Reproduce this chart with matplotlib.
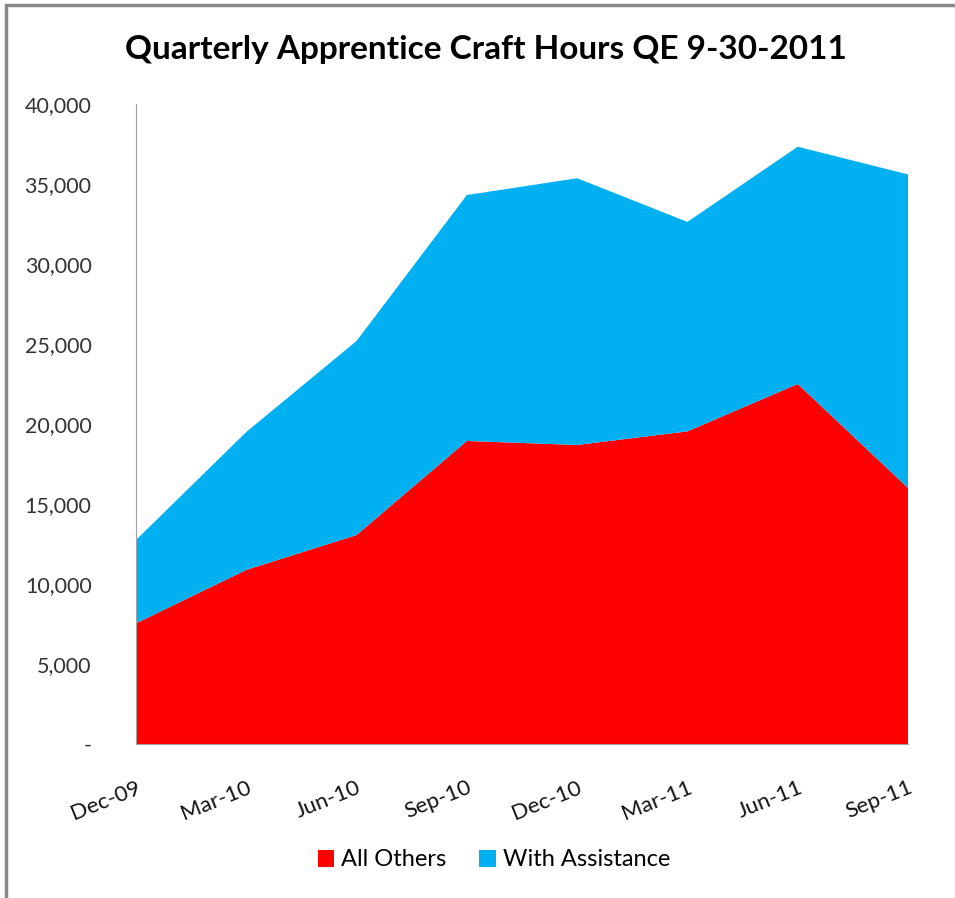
import matplotlib
matplotlib.use("Agg")
import matplotlib.pyplot as plt
from matplotlib.ticker import FuncFormatter
from matplotlib.patches import Rectangle

# Quartalswerte (Stunden)
quarters = ['Dec-09', 'Mar-10', 'Jun-10', 'Sep-10', 'Dec-10', 'Mar-11', 'Jun-11', 'Sep-11']
all_others = [7540, 10880, 13060, 18940, 18690, 19540, 22500, 16000]
with_assistance = [5210, 8620, 12130, 15370, 16670, 13090, 14830, 19600]

plt.rcParams['font.family'] = ['Lato', 'DejaVu Sans']

fig = plt.figure(figsize=(9.55, 8.98), dpi=100)
ax = fig.add_axes([136 / 955, 1 - 744 / 898, (908 - 136) / 955, (744 - 104) / 898])

x = list(range(len(quarters)))
ax.stackplot(x, all_others, with_assistance,
             colors=['#FF0000', '#00B0F0'],
             labels=['All Others', 'With Assistance'],
             linewidth=0)

ax.set_xlim(0, len(quarters) - 1)
ax.set_ylim(0, 40000)
ax.set_yticks(range(0, 40001, 5000))
ax.yaxis.set_major_formatter(FuncFormatter(lambda v, pos: '-' if v == 0 else f"{int(v):,}"))
ax.set_xticks(x)
ax.set_xticklabels(quarters, rotation=22, ha='right', rotation_mode='anchor')
ax.tick_params(axis='y', length=0, pad=32, labelsize=15.5, labelcolor='#333333')
ax.tick_params(axis='x', length=0, pad=24, labelsize=16, labelcolor='#111111')

for side in ['top', 'right']:
    ax.spines[side].set_visible(False)
ax.spines['left'].set_color('#A0A0A0')
ax.spines['bottom'].set_color('#A0A0A0')

fig.text(486 / 955, 1 - 50 / 898, 'Quarterly Apprentice Craft Hours QE 9-30-2011',
         ha='center', va='center', fontsize=24, fontweight='bold', color='#000000')

fig.legend(loc='center', bbox_to_anchor=(494 / 955, 1 - 860 / 898), ncol=2, frameon=False,
           fontsize=17, handlelength=0.7, handleheight=0.7, handletextpad=0.3, columnspacing=1.4)

# Rahmen um das Diagramm
fig.patches.append(Rectangle((6 / 955, -0.05), 1.0, 1 - 5 / 898 + 0.05, transform=fig.transFigure,
                             fill=False, edgecolor='#888888', linewidth=2.5))

fig.savefig('out.png', dpi=100)
